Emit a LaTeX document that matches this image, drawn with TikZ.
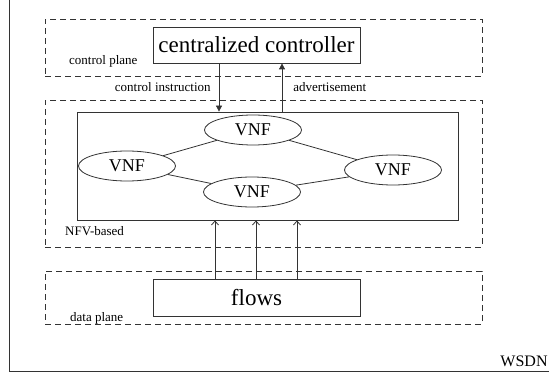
\documentclass[tikz,border=0pt]{standalone}
\usepackage{fontspec}
\setmainfont{Liberation Serif}
\usetikzlibrary{arrows.meta,positioning,shapes.geometric}
\definecolor{wline}{HTML}{333333}

\begin{document}
\begin{tikzpicture}[x=1pt,y=-1pt,
    plane/.style={draw=wline,dash pattern=on 6pt off 4pt,line width=0.8pt,inner sep=0pt},
    box/.style={draw=wline,line width=0.8pt,inner sep=0pt,font=\fontsize{23}{26}\selectfont},
    vnf/.style={ellipse,draw=wline,line width=0.8pt,inner sep=0pt,minimum width=97pt,
      minimum height=30pt,font=\fontsize{18}{20}\selectfont},
    lbl/.style={inner sep=0pt,font=\fontsize{13}{15}\selectfont},
    ctrl/.style={-{Triangle[length=6pt,width=6pt]},draw=wline,line width=0.8pt},
    flow/.style={-{Straight Barb[length=4pt,width=7pt]},draw=wline,line width=0.8pt},
    link/.style={draw=wline,line width=0.8pt}]
  \useasboundingbox (0,0) rectangle (549,377);
  % outer frame
  \coordinate (ftop) at (9,0);
  \coordinate (fcorner) at (9,371);
  \coordinate (fright) at (549,371);
  \draw[wline,line width=0.8pt] (ftop) -- (fcorner) -- (fright);
  \node[lbl,font=\fontsize{16}{18}\selectfont] (wsdn) at (524,361) {WSDN};
  % planes
  \node[plane,minimum width=437pt,minimum height=57pt] (cplane) at (263.5,47.5) {};
  \node[plane,minimum width=437pt,minimum height=147pt] (nfv) at (263.5,173.5) {};
  \node[plane,minimum width=437pt,minimum height=53pt] (dplane) at (263.5,297.5) {};
  \node[lbl,anchor=west] (cplanelbl) at (69,61) {control plane};
  \node[lbl,anchor=west] (nfvlbl) at (65,231) {NFV-based};
  \node[lbl,anchor=west] (dplanelbl) at (70,318) {data plane};
  % controller and flows
  \node[box,minimum width=207pt,minimum height=36pt] (ctrlr) at (256.5,45) {centralized controller};
  \node[box,minimum width=207pt,minimum height=37pt] (flows) at (256.5,297.5) {flows};
  % VNF graph
  \node[box,minimum width=381pt,minimum height=108pt] (vnfs) at (267.5,166) {};
  \node[vnf] (vtop) at (253,130) {VNF};
  \node[vnf] (vleft) at (127,166) {VNF};
  \node[vnf] (vright) at (393,170) {VNF};
  \node[vnf] (vbot) at (252,192) {VNF};
  \draw[link] (vtop) -- (vleft);
  \draw[link] (vtop) -- (vright);
  \draw[link] (vleft) -- (vbot);
  \draw[link] (vbot) -- (vright);
  % control arrows
  \draw[ctrl] ([xshift=-37.5pt]ctrlr.south) -- ([xshift=-37.5pt]ctrlr.south |- vnfs.north)
    node[lbl,pos=0.5,left=8pt] (instr) {control instruction};
  \draw[ctrl] ([xshift=25.5pt]ctrlr.south |- vnfs.north) -- ([xshift=25.5pt]ctrlr.south)
    node[lbl,pos=0.5,right=11pt] (adv) {advertisement};
  % flows into the NFV box
  \foreach \dx in {-41.5,-0.5,40.5}
    \draw[flow] ([xshift=\dx pt]flows.north) -- ([xshift=\dx pt]flows.north |- vnfs.south);
\end{tikzpicture}
\end{document}
